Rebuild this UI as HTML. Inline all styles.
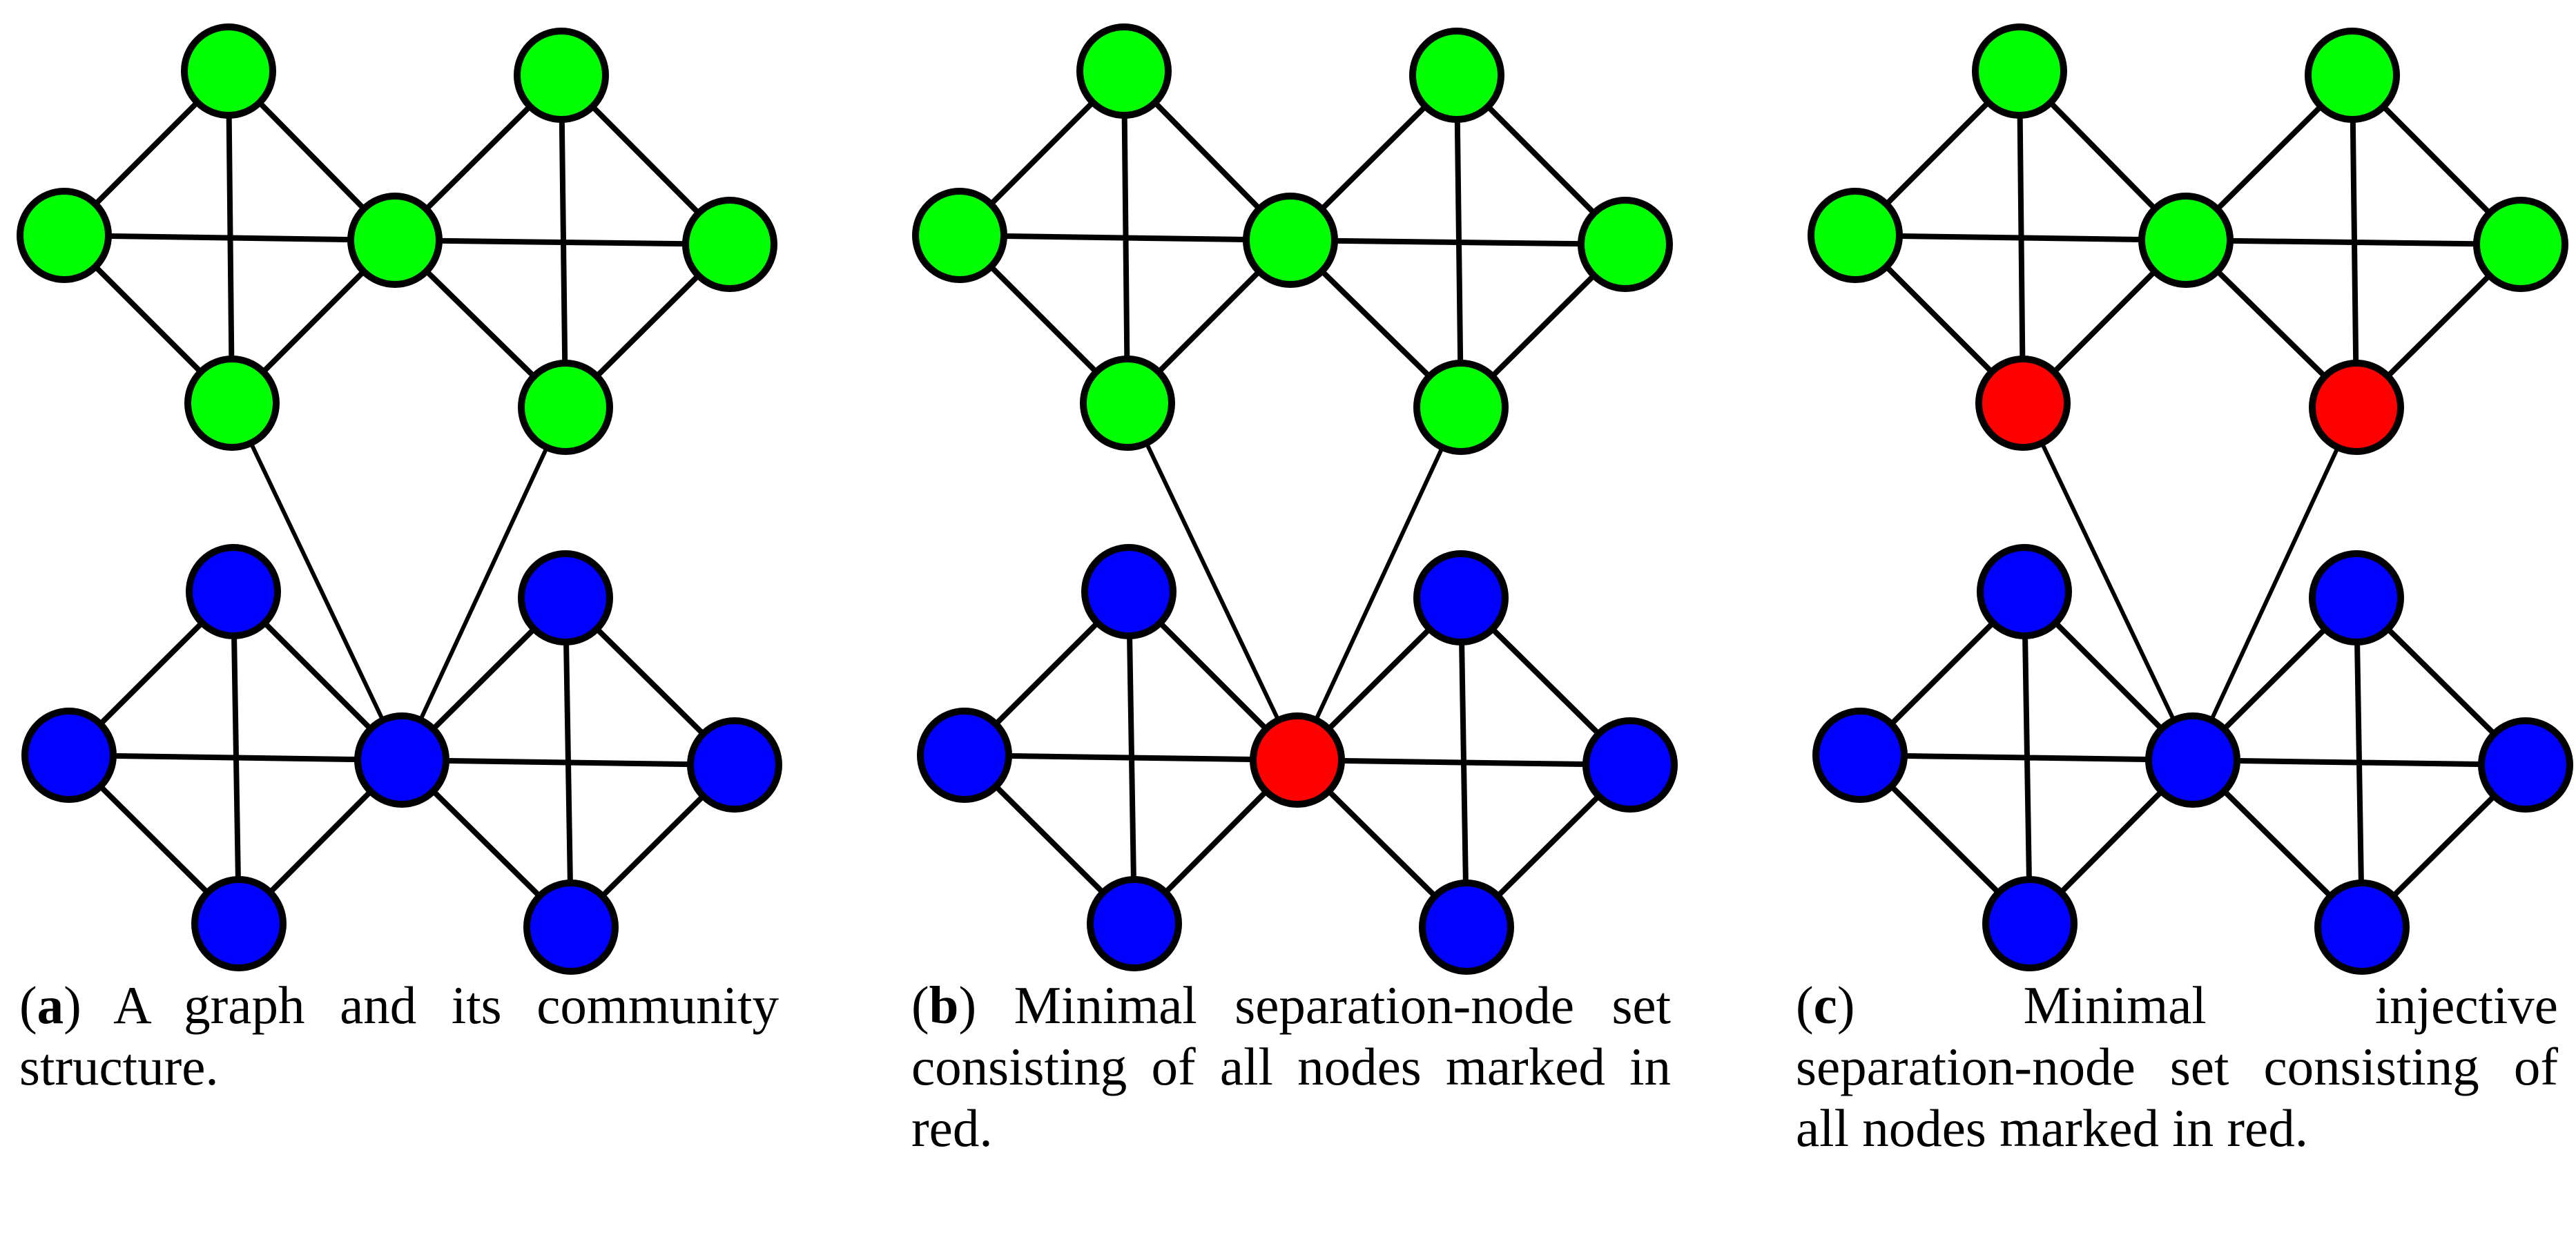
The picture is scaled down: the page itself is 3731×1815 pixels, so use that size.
<!DOCTYPE html>
<html><head><meta charset="utf-8"><style>
html,body{margin:0;padding:0;background:#fff;width:3731px;height:1815px;overflow:hidden}
svg{position:absolute;left:0;top:0}
.cap{position:absolute;width:1100px;font-family:"Liberation Serif",serif;font-size:77px;line-height:89px;color:#000}
.j{text-align:justify;text-align-last:justify;white-space:nowrap}
.l{text-align:left;white-space:nowrap}
</style></head><body>
<svg width="3731" height="1815" viewBox="0 0 3731 1815">
<defs>
<g id="edges" stroke="#000" stroke-width="8" fill="none">
<path d="M331 103L93 341M331 103L572 348M93 341L336 584M572 348L336 584M93 341L572 348M331 103L336 584"/>
<path d="M813 109L572 348M813 109L1057 354M572 348L819 590M1057 354L819 590M572 348L1057 354M813 109L819 590"/>
<path d="M338 857L100 1094M338 857L582 1101M100 1094L346 1338M582 1101L346 1338M100 1094L582 1101M338 857L346 1338"/>
<path d="M819 866L582 1101M819 866L1064 1108M582 1101L827 1343M1064 1108L827 1343M582 1101L1064 1108M819 866L827 1343"/>
<path stroke-width="6" d="M336 584L582 1101M819 590L582 1101"/>
</g>
</defs>
<g stroke="#000" stroke-width="10">
<g>
<use href="#edges"/>
<g fill="#00ff00"><circle cx="331" cy="103" r="64"/><circle cx="93" cy="341" r="64"/><circle cx="572" cy="348" r="64"/><circle cx="336" cy="584" r="64"/><circle cx="813" cy="109" r="64"/><circle cx="1057" cy="354" r="64"/><circle cx="819" cy="590" r="64"/></g>
<g fill="#0000ff"><circle cx="338" cy="857" r="64"/><circle cx="100" cy="1094" r="64"/><circle cx="582" cy="1101" r="64"/><circle cx="346" cy="1338" r="64"/><circle cx="819" cy="866" r="64"/><circle cx="1064" cy="1108" r="64"/><circle cx="827" cy="1343" r="64"/></g>
</g>
<g transform="translate(1297,0)">
<use href="#edges"/>
<g fill="#00ff00"><circle cx="331" cy="103" r="64"/><circle cx="93" cy="341" r="64"/><circle cx="572" cy="348" r="64"/><circle cx="336" cy="584" r="64"/><circle cx="813" cy="109" r="64"/><circle cx="1057" cy="354" r="64"/><circle cx="819" cy="590" r="64"/></g>
<g fill="#0000ff"><circle cx="338" cy="857" r="64"/><circle cx="100" cy="1094" r="64"/><circle cx="346" cy="1338" r="64"/><circle cx="819" cy="866" r="64"/><circle cx="1064" cy="1108" r="64"/><circle cx="827" cy="1343" r="64"/></g>
<circle cx="582" cy="1101" r="64" fill="#ff0000"/>
</g>
<g transform="translate(2594,0)">
<use href="#edges"/>
<g fill="#00ff00"><circle cx="331" cy="103" r="64"/><circle cx="93" cy="341" r="64"/><circle cx="572" cy="348" r="64"/><circle cx="813" cy="109" r="64"/><circle cx="1057" cy="354" r="64"/></g>
<g fill="#ff0000"><circle cx="336" cy="584" r="64"/><circle cx="819" cy="590" r="64"/></g>
<g fill="#0000ff"><circle cx="338" cy="857" r="64"/><circle cx="100" cy="1094" r="64"/><circle cx="582" cy="1101" r="64"/><circle cx="346" cy="1338" r="64"/><circle cx="819" cy="866" r="64"/><circle cx="1064" cy="1108" r="64"/><circle cx="827" cy="1343" r="64"/></g>
</g>
</g>
</svg>
<div class="cap" style="left:28px;top:1412px">
<div class="j">(<b>a</b>) A graph and its community</div>
<div class="l">structure.</div>
</div>
<div class="cap" style="left:1320px;top:1412px">
<div class="j">(<b>b</b>) Minimal separation-node set</div>
<div class="j">consisting of all nodes marked in</div>
<div class="l">red.</div>
</div>
<div class="cap" style="left:2601px;top:1412px;width:1104px">
<div class="j">(<b>c</b>) Minimal injective</div>
<div class="j">separation-node set consisting of</div>
<div class="l">all nodes marked in red.</div>
</div>
</body></html>
